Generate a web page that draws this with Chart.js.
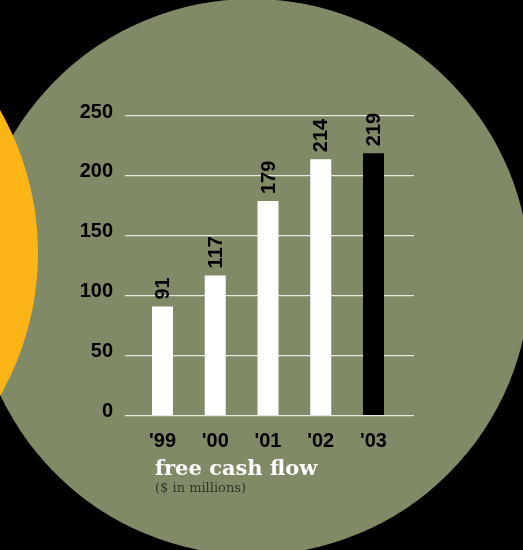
<!DOCTYPE html>
<html>
<head>
<meta charset="utf-8">
<script src="https://cdn.jsdelivr.net/npm/chart.js@4/dist/chart.umd.min.js"></script>
<style>
	html, body { margin: 0; padding: 0; background: #000; }
	#stage { position: relative; width: 523px; height: 550px; overflow: hidden; background: #000; }
	.disc { position: absolute; border-radius: 50%; }
	#olive { left: -26px; top: -1px; width: 556px; height: 556px; background: #808a67; }
	#sun { left: -538px; top: -35px; width: 576px; height: 576px; background: #fdb417; }
	#chartBox { position: absolute; left: 0; top: 0; width: 523px; height: 550px; }
	.caption { position: absolute; left: 155px; white-space: nowrap; }
	#capTitle { top: 457px; font: bold 21px/1 "DejaVu Serif", serif; color: #fff; }
	#capSub { top: 481px; font: 13px/1 "DejaVu Serif", serif; color: #33352b; }
</style>
</head>
<body>
<div id="stage">
	<div class="disc" id="olive"></div>
	<div class="disc" id="sun"></div>
	<div id="chartBox"><canvas id="fcf" width="523" height="550"></canvas></div>
	<div class="caption" id="capTitle">free cash flow</div>
	<div class="caption" id="capSub">($ in millions)</div>
</div>
<script>
// free cash flow, $ millions
const years = ["'99", "'00", "'01", "'02", "'03"]
const cashFlow = [91, 117, 179, 214, 219]
const barColors = ["#ffffff", "#ffffff", "#ffffff", "#ffffff", "#000000"]
const yTicks = [0, 50, 100, 150, 200, 250]

const points = []
cashFlow.forEach(function (value, index) {
	points.push({x: index, y: value})
})

// vertical value labels above each bar
const barValues = {
	id: 'barValues',
	afterDatasetsDraw(chart) {
		const ctx = chart.ctx
		const meta = chart.getDatasetMeta(0)
		ctx.save()
		ctx.fillStyle = '#000'
		ctx.font = 'bold 20px "Liberation Sans", Arial, sans-serif'
		ctx.textAlign = 'left'
		ctx.textBaseline = 'middle'
		meta.data.forEach(function (bar, i) {
			ctx.save()
			ctx.translate(bar.x + 1, bar.y - 7)
			ctx.rotate(-Math.PI / 2)
			ctx.fillText(String(cashFlow[i]), 0, 0)
			ctx.restore()
		})
		ctx.restore()
	}
}

const ctx = document.getElementById('fcf').getContext('2d')
new Chart(ctx, {
	type: 'bar',
	data: {
		datasets: [
			{
				data: points,
				backgroundColor: barColors,
				borderWidth: 0,
				barPercentage: 0.398,
				categoryPercentage: 1,
			},
		],
	},
	options: {
		responsive: false,
		animation: false,
		layout: {
			padding: {
				left: 0,
				right: 109,
				top: 116,
				bottom: 0,
			},
		},
		plugins: {
			legend: {display: false},
			tooltip: {enabled: false},
		},
		scales: {
			x: {
				type: 'linear',
				offset: false,
				min: -0.711,
				max: 4.768,
				grid: {display: false},
				border: {display: false},
				afterBuildTicks: function (scale) {
					scale.ticks = years.map(function (label, i) { return {value: i} })
				},
				afterFit: function (scale) { scale.height = 134.4 },
				ticks: {
					autoSkip: false,
					maxRotation: 0,
					padding: 6,
					color: '#000',
					font: {family: '"Liberation Sans", Arial, sans-serif', size: 20, weight: 'bold'},
					callback: function (value) { return years[value] },
				},
			},
			y: {
				min: 0,
				max: 250,
				afterBuildTicks: function (scale) {
					scale.ticks = yTicks.map(function (v) { return {value: v} })
				},
				afterFit: function (scale) { scale.width = 125 },
				grid: {
					color: '#e6e9de',
					lineWidth: 1.2,
					drawTicks: false,
				},
				border: {display: false},
				ticks: {
					padding: 12,
					labelOffset: -4,
					color: '#000',
					font: {family: '"Liberation Sans", Arial, sans-serif', size: 20, weight: 'bold'},
				},
			},
		},
	},
	plugins: [barValues],
});
</script>
</body>
</html>
